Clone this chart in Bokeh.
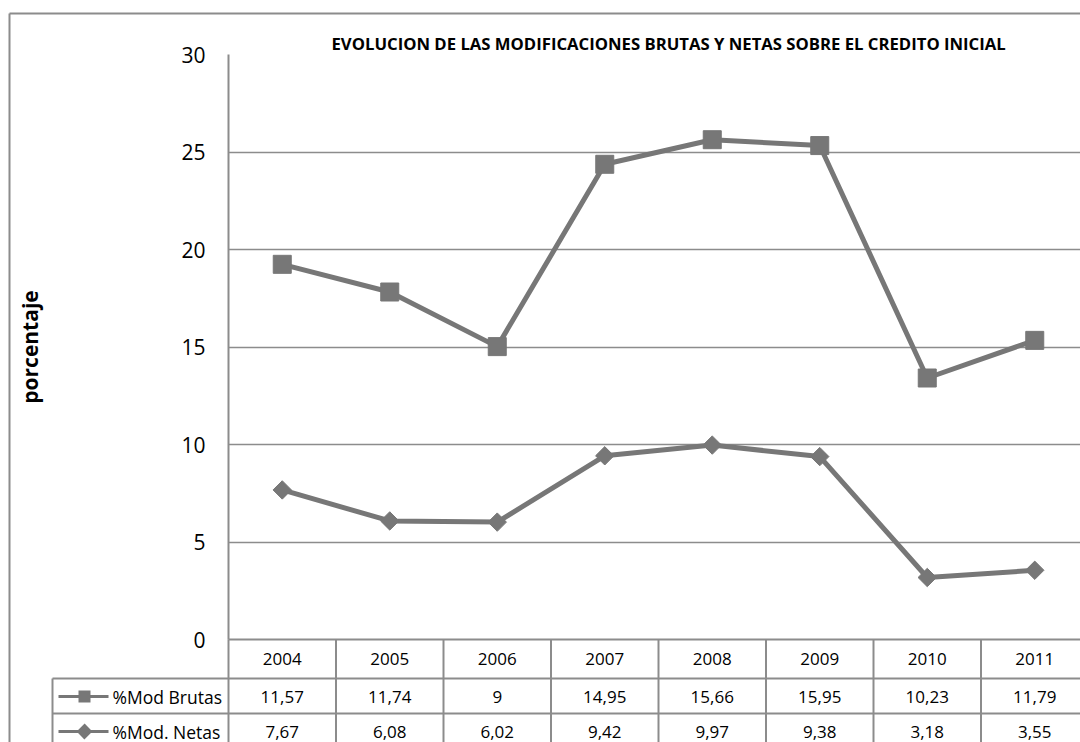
import numpy as np
from bokeh.plotting import figure
from bokeh.models import Range1d, FixedTicker
from bokeh.embed import file_html
from bokeh.resources import INLINE
from bokeh.core.properties import value

# ---------------- data ----------------
years = ["2004", "2005", "2006", "2007", "2008", "2009", "2010", "2011"]
mod_brutas = [11.57, 11.74, 9, 14.95, 15.66, 15.95, 10.23, 11.79]
mod_netas = [7.67, 6.08, 6.02, 9.42, 9.97, 9.38, 3.18, 3.55]
series_names = ["%Mod Brutas", "%Mod. Netas"]
y_ticks = [0, 5, 10, 15, 20, 25, 30]
title_text = "EVOLUCION DE LAS MODIFICACIONES BRUTAS Y NETAS SOBRE EL CREDITO INICIAL"
y_label = "porcentaje"

# ---------------- style / layout ----------------
FONT = "Open Sans"
LINE_C = "#777777"
GRID_C = "#8c8c8c"
FIG_W, FIG_H = 1080, 742
PAGE_OFF = 0
FRAME_LEFT_PAGE = 228
FRAME_TOP_PAGE = 54
FRAME_BOTTOM_PAGE = 639
COL_PX = 107.5
UNIT_PX = (FRAME_BOTTOM_PAGE - FRAME_TOP_PAGE) / 30.0


def dx(px):
    return (px - FRAME_LEFT_PAGE) / COL_PX


def dy(py):
    return (FRAME_BOTTOM_PAGE - py) / UNIT_PX


x_end = dx(PAGE_OFF + FIG_W)

p = figure(
    width=FIG_W, height=FIG_H,
    x_range=Range1d(0, x_end), y_range=Range1d(0, 30),
    x_axis_location=None,
    output_backend="svg", toolbar_location=None,
    min_border_left=FRAME_LEFT_PAGE - PAGE_OFF,
    min_border_top=FRAME_TOP_PAGE - PAGE_OFF,
    min_border_right=0,
    min_border_bottom=PAGE_OFF + FIG_H - FRAME_BOTTOM_PAGE,
)
p.outline_line_color = None
p.background_fill_color = "white"
p.border_fill_color = "white"

# title
p.title.text = title_text
p.title.align = "left"
p.title.offset = 103
p.title.standoff = 0
p.title.text_font = FONT
p.title.text_font_size = "16.7px"
p.title.text_font_style = "bold"
p.title.text_color = "black"

# y axis
yax = p.yaxis[0]
yax.ticker = FixedTicker(ticks=y_ticks)
yax.major_tick_out = 0
yax.major_tick_in = 0
yax.minor_tick_out = 0
yax.minor_tick_in = 0
yax.major_label_standoff = 23
yax.major_label_text_font = FONT
yax.major_label_text_font_size = "21px"
yax.major_label_text_color = "black"
yax.axis_line_color = GRID_C
yax.axis_line_width = 2
yax.axis_label = y_label
yax.axis_label_standoff = 134
yax.axis_label_text_font = FONT
yax.axis_label_text_font_size = "21px"
yax.axis_label_text_font_style = "bold"
yax.axis_label_text_color = "black"

p.xgrid.visible = False
p.ygrid.ticker = FixedTicker(ticks=y_ticks)
p.ygrid.grid_line_color = GRID_C
p.ygrid.grid_line_width = 1.5

# ---------------- series (stacked lines) ----------------
xs = np.arange(len(years)) + 0.5
netas = np.array(mod_netas)
brutas_stacked = netas + np.array(mod_brutas)

p.line(xs, brutas_stacked, line_color=LINE_C, line_width=5)
p.scatter(xs, brutas_stacked, marker="square", size=18, fill_color=LINE_C, line_color=LINE_C)
p.line(xs, netas, line_color=LINE_C, line_width=5)
p.scatter(xs, netas, marker="square", angle=np.pi / 4, size=13, fill_color=LINE_C, line_color=LINE_C)

# ---------------- data table below the chart ----------------
row_lines = [FRAME_BOTTOM_PAGE, 678, 713]
row_centers = [658.5, 696, 731]
legend_left = 52
table_bottom = 800

# horizontal table lines
h_x0 = [dx(FRAME_LEFT_PAGE), dx(legend_left), dx(legend_left)]
h_y = [dy(v) for v in row_lines]
p.segment(x0=h_x0, y0=h_y, x1=[x_end + 1] * 3, y1=h_y,
          line_color=GRID_C, line_width=2, level="overlay")

# vertical table lines
v_x = list(range(len(years) + 1))
p.segment(x0=v_x, y0=[0] * len(v_x), x1=v_x, y1=[dy(table_bottom)] * len(v_x),
          line_color=GRID_C, line_width=2, level="overlay")
p.segment(x0=[dx(legend_left)], y0=[dy(row_lines[1])], x1=[dx(legend_left)], y1=[dy(table_bottom)],
          line_color=GRID_C, line_width=2, level="overlay")

# outer chart border (left and top edges)
p.segment(x0=[dx(9), dx(9)], y0=[dy(13), dy(13)], x1=[dx(9), x_end + 1], y1=[dy(table_bottom), dy(13)],
          line_color=GRID_C, line_width=2, level="overlay")


def fmt(v):
    return f"{v:g}".replace(".", ",")


text_kw = dict(text_font=value(FONT), text_font_size="17px", text_color="black",
               text_align="center", text_baseline="middle", level="overlay")
p.text(x=xs, y=[dy(row_centers[0])] * len(years), text=years, **text_kw)
p.text(x=xs, y=[dy(row_centers[1])] * len(years), text=[fmt(v) for v in mod_brutas], **text_kw)
p.text(x=xs, y=[dy(row_centers[2])] * len(years), text=[fmt(v) for v in mod_netas], **text_kw)

# legend keys in the first column (markers drawn as thick butt-capped segments)
key_y = [dy(row_centers[1]), dy(row_centers[2])]
key_cx = dx(84)
p.segment(x0=[dx(58)] * 2, y0=key_y, x1=[dx(108)] * 2, y1=key_y,
          line_color=LINE_C, line_width=3, level="overlay")
sq = 6 / COL_PX
p.segment(x0=[key_cx - sq], y0=[key_y[0]], x1=[key_cx + sq], y1=[key_y[0]],
          line_color=LINE_C, line_width=12, line_cap="butt", level="overlay")
da = 4 / COL_PX
db = 4 / UNIT_PX
p.segment(x0=[key_cx - da], y0=[key_y[1] - db], x1=[key_cx + da], y1=[key_y[1] + db],
          line_color=LINE_C, line_width=11, line_cap="butt", level="overlay")
p.text(x=[dx(112)] * 2, y=key_y, text=series_names, text_font=value(FONT), text_font_size="17.5px",
       text_color="black", text_align="left", text_baseline="middle", level="overlay")

open("out.html", "w").write(file_html(p, INLINE))
